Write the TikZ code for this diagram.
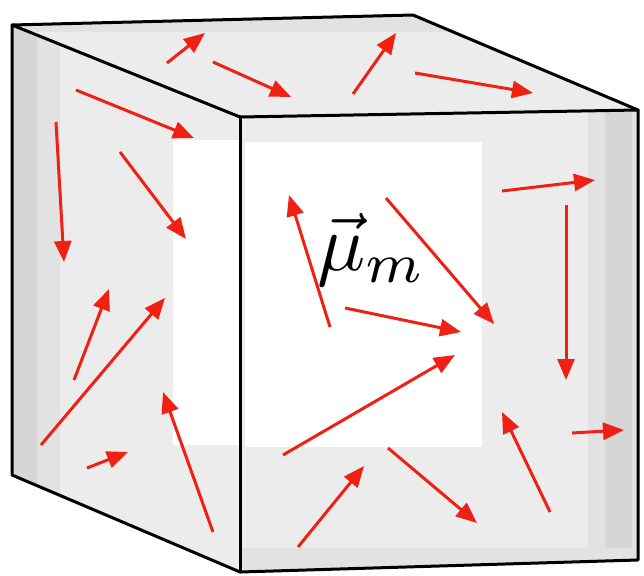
\documentclass[tikz,border=0pt]{standalone}
\usetikzlibrary{arrows.meta}
\definecolor{faceg}{HTML}{ECECEC}
\definecolor{midg}{HTML}{E2E2E2}
\definecolor{darkg}{HTML}{D6D6D6}
\definecolor{arrred}{RGB}{240,32,20}
\tikzset{
  mom/.style={draw=arrred, line width=3pt, -{Triangle[length=21pt,width=17pt]}},
  edge/.style={draw=black, line width=3pt, line join=round, line cap=round}
}
\begin{document}
\begin{tikzpicture}[x=1pt,y=-1pt]
\useasboundingbox (0,0) rectangle (644,575);
% cube corners
\coordinate (BTL) at (12,25);
\coordinate (BTR) at (413,15);
\coordinate (FTL) at (240,117);
\coordinate (FTR) at (638,110);
\coordinate (FBL) at (240,572);
\coordinate (FBR) at (638,560);
\coordinate (BBL) at (12,475);
% top face
\fill[faceg] (BTL) -- (BTR) -- (FTR) -- (FTL) -- cycle;
\begin{scope}
  \clip (BTL) -- (BTR) -- (FTR) -- (FTL) -- cycle;
  \fill[midg] (0,0) rectangle (644,32);
\end{scope}
% left face
\fill[faceg] (BTL) -- (FTL) -- (FBL) -- (BBL) -- cycle;
\begin{scope}
  \clip (BTL) -- (FTL) -- (FBL) -- (BBL) -- cycle;
  \fill[darkg] (12,0) rectangle (37,575);
  \fill[midg] (37,0) rectangle (60,575);
  \fill[white] (173,140) rectangle (240,445);
\end{scope}
% front face
\fill[faceg] (FTL) -- (FTR) -- (FBR) -- (FBL) -- cycle;
\begin{scope}
  \clip (FTL) -- (FTR) -- (FBR) -- (FBL) -- cycle;
  \fill[white] (245,142) rectangle (482,447);
  \fill[midg] (588,100) rectangle (605,575);
  \fill[darkg] (605,100) rectangle (632,575);
  \fill[midg] (632,100) rectangle (638,575);
  \fill[midg] (240,548) rectangle (638,575);
\end{scope}
% edges
\draw[edge] (BTL) -- (BTR) -- (FTR) -- (FBR) -- (FBL) -- (BBL) -- cycle;
\draw[edge] (BTL) -- (FTL) -- (FTR);
\draw[edge] (FTL) -- (FBL);
% moments: top face
\draw[mom] (167,63) -- (205,33);
\draw[mom] (213,62) -- (291,97);
\draw[mom] (353,94) -- (396,33);
\draw[mom] (415,73) -- (533,93);
% left face
\draw[mom] (76,90) -- (194,138);
\draw[mom] (56,122) -- (64,262);
\draw[mom] (120,152) -- (186,239);
\draw[mom] (74,380) -- (109,289);
\draw[mom] (41,445) -- (165,298);
\draw[mom] (87,468) -- (128,452);
\draw[mom] (213,532) -- (163,392);
% front face
\draw[mom] (330,327) -- (289,195);
\draw[mom] (386,198) -- (494,324);
\draw[mom] (345,308) -- (461,332);
\draw[mom] (283,455) -- (455,355);
\draw[mom] (298,547) -- (364,466);
\draw[mom] (388,448) -- (477,523);
\draw[mom] (550,512) -- (502,412);
\draw[mom] (502,191) -- (595,180);
\draw[mom] (566,205) -- (566,380);
\draw[mom] (572,433) -- (624,430);
% label
\node[inner sep=0pt, anchor=base west, scale=8] (mu) at (316,270) {$\vec{\mu}_m$};
\end{tikzpicture}
\end{document}
